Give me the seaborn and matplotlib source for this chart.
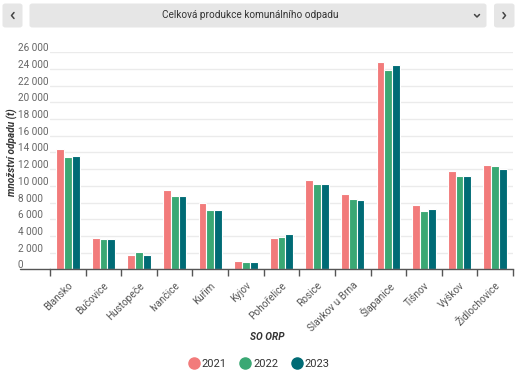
import matplotlib
matplotlib.use("Agg")
import matplotlib.pyplot as plt
import matplotlib.transforms as mtransforms
from matplotlib.patches import FancyBboxPatch
from matplotlib.lines import Line2D
import seaborn as sns
import pandas as pd

categories = ["Blansko", "Bučovice", "Hustopeče", "Ivančice", "Kuřim", "Kyjov",
              "Pohořelice", "Rosice", "Slavkov u Brna", "Šlapanice", "Tišnov",
              "Vyškov", "Židlochovice"]
years = ["2021", "2022", "2023"]
v2021 = [14450, 3790, 1720, 9550, 7910, 1000, 3710, 10740, 9030, 24840, 7750, 11740, 12500]
v2022 = [13460, 3630, 2080, 8830, 7110, 920, 3830, 10220, 8390, 23840, 6950, 11220, 12420]
v2023 = [13580, 3590, 1720, 8790, 7110, 920, 4190, 10260, 8270, 24440, 7230, 11180, 11980]
yticks = list(range(0, 26001, 2000))
colors = ["#f27b7b", "#3aa874", "#006b75"]

title = "Celková produkce komunálního odpadu"
xlabel = "SO ORP"
ylabel = "množství odpadu (t)"

rows = []
for yr, vals in zip(years, [v2021, v2022, v2023]):
    for c, v in zip(categories, vals):
        rows.append({"orp": c, "year": yr, "value": v})
df = pd.DataFrame(rows)

sns.set_theme(style="white")
plt.rcParams["font.family"] = ["Roboto", "DejaVu Sans"]

W, H = 520, 370
fig = plt.figure(figsize=(W / 100, H / 100), dpi=100)

def fx(x):
    return x / W

def fy(y):
    return 1 - y / H

ax_l, ax_r, ax_t, ax_b = 50, 513, 52.3, 269.3
ax = fig.add_axes([fx(ax_l), fy(ax_b), fx(ax_r - ax_l), (ax_b - ax_t) / H])

sns.barplot(data=df, x="orp", y="value", hue="year", palette=colors,
            width=0.66, edgecolor="white", linewidth=0.8, ax=ax, legend=False,
            saturation=1)

ax.set_ylim(0, 26000)
ax.set_xlim(-0.5, len(categories) - 0.5)
ax.set_yticks(yticks)
ax.set_yticklabels([f"{t:,}".replace(",", " ") for t in yticks])
ax.yaxis.grid(True, color="#ebebeb", linewidth=1)
ax.set_axisbelow(True)
for s in ["top", "right", "left"]:
    ax.spines[s].set_visible(False)
ax.spines["bottom"].set_color("#555555")
ax.spines["bottom"].set_linewidth(1)

ax.tick_params(axis="y", length=0, pad=(ax_l - 18) * 0.72, labelsize=7.2, labelcolor="#666666")
for lab in ax.get_yticklabels():
    lab.set_horizontalalignment("left")
    lab.set_transform(lab.get_transform() + mtransforms.ScaledTranslation(0, 0.05, fig.dpi_scale_trans))

ax.set_xticks(range(len(categories)))
ax.set_xticklabels(categories, rotation=45, ha="right", rotation_mode="anchor",
                   fontsize=7.2, color="#555555")
ax.tick_params(axis="x", which="major", length=0, pad=8)
ax.set_xticks([i - 0.5 for i in range(len(categories) + 1)], minor=True)
ax.tick_params(axis="x", which="minor", length=5, width=1, color="#555555", direction="out", bottom=True)

ax.set_xlabel("")
ax.set_ylabel("")

# extended axis line to the left
fig.add_artist(Line2D([fx(20), fx(ax_l)], [fy(ax_b), fy(ax_b)], color="#555555", linewidth=1))

fig.text(fx(267), fy(337), xlabel, ha="center", va="center", fontsize=7.2,
         fontweight="bold", fontstyle="italic", color="#333333")
fig.text(fx(12), fy(152), ylabel, ha="center", va="center", rotation=90, fontsize=7.2,
         fontweight="bold", fontstyle="italic", color="#333333")

# header
def rbox(x0, y0, x1, y1):
    p = FancyBboxPatch((fx(x0), fy(y1)), fx(x1 - x0), (y1 - y0) / H,
                       boxstyle="round,pad=0,rounding_size=0.006",
                       transform=fig.transFigure, facecolor="#e6e6e6", edgecolor="none")
    fig.add_artist(p)

rbox(2.5, 3.5, 22.5, 27.5)
rbox(29.5, 3.5, 486.5, 27.5)
rbox(494, 3.5, 514.5, 27.5)
fig.text(fx(250), fy(15.5), title, ha="center", va="center", fontsize=7.2, color="#333333")

def chev(pts):
    fig.add_artist(Line2D([fx(p[0]) for p in pts], [fy(p[1]) for p in pts],
                          color="#444444", linewidth=1.1))

chev([(14, 12.5), (11.5, 15.5), (14, 18.5)])
chev([(503, 12.5), (505.5, 15.5), (503, 18.5)])
chev([(474.5, 14.5), (477, 17), (479.5, 14.5)])

# legend
handles = [Line2D([0], [0], marker="o", linestyle="", markersize=8,
                  markerfacecolor=c, markeredgecolor=c) for c in colors]
leg = fig.legend(handles, years, loc="center", bbox_to_anchor=(fx(259), fy(364)),
                 ncol=3, frameon=False, fontsize=8, handletextpad=0.2,
                 columnspacing=1.2, handlelength=1.0)
for t in leg.get_texts():
    t.set_color("#333333")

fig.savefig("out.png", dpi=100)
